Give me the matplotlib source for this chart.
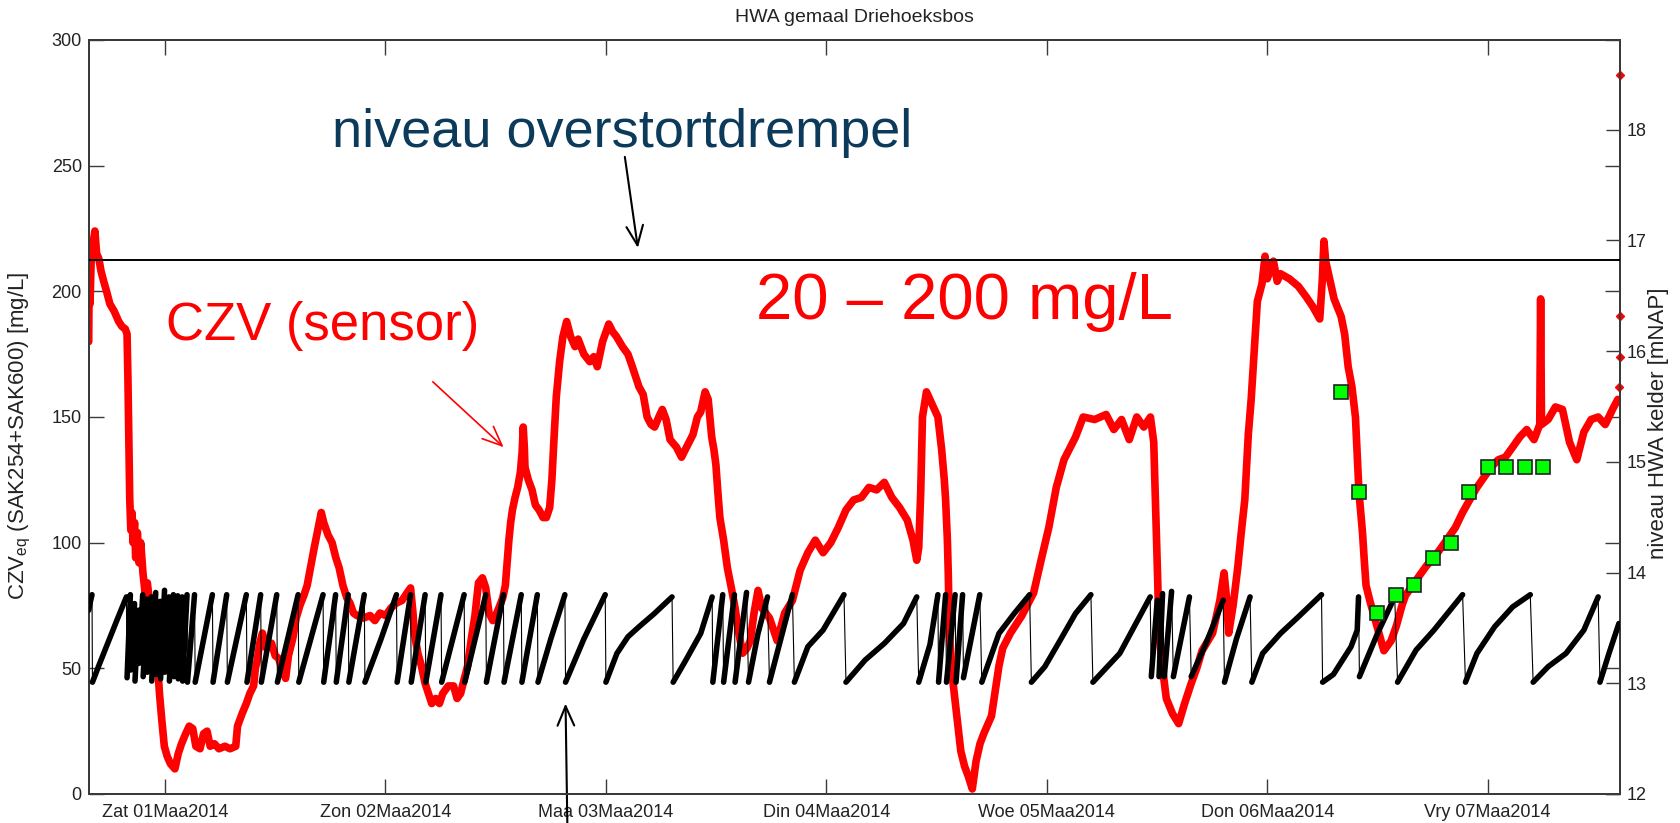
import numpy as np
import matplotlib
matplotlib.use('Agg')
import matplotlib.pyplot as plt

# CZV sensor series (days since 01-03-2014 00:00, mg/L)
czv_t = [-0.346, -0.344, -0.340, -0.335, -0.328, -0.318, -0.310, -0.300, -0.290, -0.278,
         -0.265, -0.250, -0.230, -0.210, -0.195, -0.180, -0.172, -0.168, -0.164, -0.160,
         -0.155, -0.150, -0.145, -0.138, -0.133, -0.125, -0.118, -0.110, -0.100, -0.090,
         -0.080, -0.068, -0.060, -0.052, -0.045, -0.036, -0.025, -0.015, -0.003, 0.010,
         0.025, 0.045, 0.060, 0.075, 0.094, 0.110, 0.126, 0.140, 0.159, 0.175,
         0.191, 0.205, 0.224, 0.245, 0.272, 0.295, 0.321, 0.329, 0.350, 0.369,
         0.385, 0.402, 0.410, 0.418, 0.430, 0.442, 0.460, 0.483, 0.500, 0.515,
         0.530, 0.547, 0.560, 0.580, 0.595, 0.612, 0.630, 0.645, 0.660, 0.677,
         0.695, 0.709, 0.720, 0.740, 0.758, 0.775, 0.790, 0.807, 0.825, 0.839,
         0.855, 0.871, 0.900, 0.930, 0.952, 0.975, 1.001, 1.025, 1.050, 1.075,
         1.098, 1.114, 1.125, 1.131, 1.147, 1.163, 1.180, 1.195, 1.210, 1.228,
         1.245, 1.260, 1.285, 1.309, 1.325, 1.341, 1.358, 1.373, 1.390, 1.406,
         1.422, 1.440, 1.455, 1.470, 1.487, 1.505, 1.519, 1.532, 1.544, 1.552,
         1.560, 1.568, 1.576, 1.588, 1.600, 1.612, 1.620, 1.625, 1.630, 1.633,
         1.648, 1.665, 1.680, 1.697, 1.715, 1.730, 1.745, 1.755, 1.765, 1.775,
         1.790, 1.805, 1.822, 1.840, 1.860, 1.874, 1.900, 1.927, 1.945, 1.961,
         1.985, 2.013, 2.030, 2.048, 2.075, 2.100, 2.120, 2.135, 2.150, 2.169,
         2.187, 2.205, 2.221, 2.240, 2.256, 2.273, 2.291, 2.320, 2.343, 2.360,
         2.395, 2.415, 2.430, 2.450, 2.464, 2.480, 2.490, 2.499, 2.508, 2.517,
         2.534, 2.551, 2.569, 2.586, 2.603, 2.620, 2.640, 2.655, 2.672, 2.690,
         2.707, 2.742, 2.777, 2.811, 2.846, 2.881, 2.916, 2.950, 2.985, 3.020,
         3.054, 3.089, 3.124, 3.159, 3.193, 3.228, 3.263, 3.297, 3.332, 3.367,
         3.393, 3.410, 3.419, 3.428, 3.436, 3.454, 3.480, 3.506, 3.523, 3.535,
         3.541, 3.549, 3.553, 3.558, 3.575, 3.592, 3.610, 3.627, 3.644, 3.662,
         3.679, 3.697, 3.714, 3.749, 3.766, 3.783, 3.800, 3.835, 3.887, 3.940,
         3.974, 4.009, 4.043, 4.078, 4.130, 4.165, 4.217, 4.269, 4.304, 4.339,
         4.374, 4.408, 4.440, 4.470, 4.485, 4.495, 4.503, 4.509, 4.525, 4.542,
         4.570, 4.598, 4.625, 4.655, 4.680, 4.704, 4.752, 4.785, 4.804, 4.815,
         4.825, 4.845, 4.866, 4.882, 4.898, 4.914, 4.927, 4.940, 4.955, 4.976,
         4.990, 5.000, 5.028, 5.045, 5.060, 5.100, 5.141, 5.175, 5.206, 5.238,
         5.250, 5.257, 5.265, 5.270, 5.303, 5.335, 5.351, 5.367, 5.384, 5.400,
         5.416, 5.432, 5.440, 5.448, 5.465, 5.481, 5.497, 5.529, 5.562, 5.586,
         5.611, 5.627, 5.659, 5.691, 5.724, 5.756, 5.789, 5.821, 5.853, 5.886,
         5.918, 5.951, 5.983, 6.015, 6.048, 6.080, 6.113, 6.145, 6.177, 6.210,
         6.236, 6.240, 6.244, 6.274, 6.307, 6.339, 6.371, 6.404, 6.436, 6.469,
         6.501, 6.533, 6.566, 6.590]
czv_v = [180, 205, 195, 212, 218, 224, 215, 213, 208, 204,
         200, 195, 192, 188, 186, 185, 183, 165, 140, 118,
         105, 112, 100, 108, 94, 104, 92, 100, 88, 80,
         84, 75, 70, 64, 72, 55, 40, 30, 19, 15,
         12, 10, 16, 20, 24, 27, 26, 19, 18, 24,
         25, 19, 20, 18, 19, 18, 19, 27, 32, 36,
         40, 43, 50, 53, 60, 64, 58, 60, 55, 54,
         50, 46, 55, 62, 70, 75, 79, 83, 90, 98,
         106, 112, 108, 103, 100, 94, 90, 83, 78, 76,
         72, 71, 70, 71, 69, 72, 71, 74, 76, 77,
         80, 82, 72, 64, 56, 51, 44, 40, 36, 38,
         36, 40, 43, 43, 38, 40, 46, 51, 62, 71,
         84, 86, 82, 72, 69, 72, 75, 78, 83, 92,
         101, 108, 113, 118, 122, 128, 136, 146, 138, 130,
         125, 121, 115, 113, 110, 110, 114, 125, 142, 158,
         172, 182, 188, 182, 178, 181, 175, 172, 174, 170,
         180, 187, 184, 182, 178, 175, 170, 166, 162, 159,
         150, 147, 146, 150, 153, 149, 141, 138, 134, 137,
         143, 150, 152, 160, 157, 142, 137, 131, 120, 110,
         101, 90, 82, 74, 64, 56, 58, 61, 72, 81,
         74, 70, 61, 72, 77, 89, 96, 101, 96, 100,
         106, 113, 117, 118, 122, 121, 124, 118, 114, 109,
         101, 93, 98, 120, 150, 160, 155, 150, 137, 125,
         117, 101, 88, 64, 44, 31, 17, 11, 7, 2,
         13, 20, 24, 31, 41, 51, 58, 64, 71, 80,
         93, 106, 122, 133, 142, 150, 149, 151, 145, 149,
         141, 150, 146, 150, 140, 110, 85, 64, 50, 38,
         32, 28, 36, 44, 50, 57, 64, 77, 88, 78,
         64, 75, 90, 104, 117, 143, 157, 175, 196, 203,
         214, 205, 212, 204, 207, 205, 202, 198, 194, 189,
         205, 220, 212, 210, 197, 190, 183, 170, 162, 150,
         120, 104, 93, 83, 77, 72, 67, 57, 61, 67,
         75, 79, 83, 87, 91, 94, 98, 102, 106, 112,
         117, 122, 126, 130, 133, 134, 138, 142, 145, 141,
         147, 197, 147, 149, 154, 153, 140, 133, 144, 149,
         150, 147, 153, 157]

# loose sensor readings at the end of the record
edge_t = [6.597, 6.598, 6.599, 6.600]
edge_v = [162, 174, 190, 286]

# lab samples (mg/L)
lab_t = [5.333, 5.417, 5.500, 5.583, 5.667, 5.750, 5.833, 5.917, 6.000, 6.083, 6.167, 6.250]
lab_v = [160, 120, 72, 79, 83, 94, 100, 120, 130, 130, 130, 130]

# water level in the HWA cellar (mNAP)
lvl_t = [-0.346, -0.338, -0.331, -0.329, -0.300, -0.260, -0.220, -0.175,
         -0.172, -0.157, -0.155, -0.138, -0.136, -0.120, -0.118, -0.101,
         -0.099, -0.082, -0.080, -0.062, -0.060, -0.042, -0.040, -0.022,
         -0.020, -0.002, 0.000, 0.018, 0.020, 0.038, 0.040, 0.058,
         0.060, 0.078, 0.080, 0.100,
         0.102, 0.134, 0.137, 0.215, 0.218, 0.280, 0.283, 0.369, 0.372, 0.434,
         0.437, 0.507, 0.510, 0.604, 0.607, 0.717, 0.720, 0.774, 0.777, 0.831,
         0.834, 0.904, 0.907, 0.980, 1.050, 1.053, 1.114, 1.117, 1.180, 1.183,
         1.252, 1.255, 1.357, 1.360, 1.455, 1.458, 1.535, 1.538, 1.616, 1.619,
         1.689, 1.692, 1.750, 1.814,
         1.817, 1.900, 1.997,
         2.000, 2.050, 2.100, 2.150, 2.220, 2.300,
         2.305, 2.360, 2.430, 2.482,
         2.485, 2.530, 2.534, 2.583, 2.586, 2.638,
         2.647, 2.690, 2.733, 2.742, 2.800, 2.846,
         2.855, 2.916, 2.985, 3.080,
         3.089, 3.176, 3.263, 3.350, 3.410,
         3.419, 3.470, 3.506, 3.509, 3.541, 3.545, 3.584, 3.588, 3.618, 3.622, 3.696,
         3.705, 3.783, 3.852, 3.922,
         3.930, 3.991, 4.061, 4.130, 4.200,
         4.209, 4.331, 4.420, 4.469,
         4.474, 4.501, 4.509, 4.525, 4.533, 4.566, 4.574, 4.647,
         4.655, 4.720, 4.800,
         4.806, 4.860, 4.922,
         4.930, 4.979, 5.060, 5.141, 5.246,
         5.251, 5.300, 5.380, 5.408, 5.414,
         5.418, 5.500, 5.578,
         5.591, 5.675, 5.756, 5.886,
         5.899, 5.951, 6.031, 6.113, 6.193,
         6.206, 6.274, 6.355, 6.436, 6.501,
         6.509, 6.550, 6.595]
lvl_h = [13.66, 13.74, 13.80, 13.01, 13.16, 13.36, 13.56, 13.78,
         13.05, 13.80, 13.12, 13.72, 13.02, 13.66, 13.18, 13.80,
         13.06, 13.76, 13.10, 13.78, 13.02, 13.82, 13.08, 13.74,
         13.04, 13.84, 13.10, 13.78, 13.02, 13.80, 13.06, 13.79,
         13.04, 13.78, 13.02, 13.80,
         13.01, 13.80, 13.01, 13.80, 13.01, 13.80, 13.01, 13.80, 13.01, 13.80,
         13.01, 13.80, 13.01, 13.80, 13.01, 13.80, 13.01, 13.80, 13.01, 13.80,
         13.01, 13.80, 13.01, 13.40, 13.80, 13.01, 13.80, 13.01, 13.80, 13.01,
         13.80, 13.01, 13.80, 13.01, 13.80, 13.01, 13.80, 13.01, 13.80, 13.01,
         13.80, 13.01, 13.40, 13.80,
         13.01, 13.40, 13.80,
         13.01, 13.27, 13.42, 13.51, 13.63, 13.78,
         13.01, 13.20, 13.45, 13.78,
         13.01, 13.80, 13.01, 13.80, 13.01, 13.82,
         13.01, 13.45, 13.78, 13.01, 13.45, 13.80,
         13.01, 13.33, 13.48, 13.80,
         13.01, 13.21, 13.36, 13.54, 13.78,
         13.01, 13.35, 13.80, 13.01, 13.80, 13.01, 13.80, 13.01, 13.80, 13.05, 13.80,
         13.01, 13.45, 13.63, 13.80,
         13.01, 13.15, 13.39, 13.63, 13.80,
         13.01, 13.27, 13.60, 13.78,
         13.06, 13.75, 13.06, 13.81, 13.06, 13.83, 13.06, 13.78,
         13.06, 13.35, 13.75,
         13.01, 13.40, 13.78,
         13.01, 13.27, 13.45, 13.60, 13.80,
         13.01, 13.08, 13.33, 13.48, 13.78,
         13.06, 13.45, 13.78,
         13.01, 13.30, 13.48, 13.80,
         13.01, 13.27, 13.51, 13.69, 13.80,
         13.01, 13.15, 13.27, 13.48, 13.78,
         13.01, 13.27, 13.54]

overstort = 16.82  # mNAP

day_labels = ['Zat 01Maa2014', 'Zon 02Maa2014', 'Maa 03Maa2014', 'Din 04Maa2014',
              'Woe 05Maa2014', 'Don 06Maa2014', 'Vry 07Maa2014']

plt.rcParams['font.family'] = ['Liberation Sans', 'DejaVu Sans']
plt.rcParams['mathtext.fontset'] = 'custom'
plt.rcParams['mathtext.rm'] = 'Liberation Sans'
plt.rcParams['mathtext.it'] = 'Liberation Sans'

fig = plt.figure(figsize=(16.8, 8.23), dpi=100)
ax = fig.add_axes([88.7 / 1680, 1 - 794 / 823, (1620 - 88.7) / 1680, 754 / 823])
ax2 = ax.twinx()

axis_col = '#3a3a3a'
text_col = '#222222'

# sensor curve, drawn thick to look like the dense marker band
ax.plot(czv_t, czv_v, color='#ff0000', lw=5.5, solid_joinstyle='round',
        solid_capstyle='round', zorder=2)
ax.plot(edge_t, edge_v, ls='none', marker='D', ms=4, color='#ff0000', clip_on=False)

# level: thin line everywhere, thick on the filling parts of each cycle
t = np.array(lvl_t)
h = np.array(lvl_h)
drops = np.where(np.diff(h) < 0)[0] + 1
ax2.plot(t, h, color='black', lw=0.8, zorder=2)
ax2.plot(np.insert(t, drops, np.nan), np.insert(h, drops, np.nan), color='black',
         lw=4, solid_joinstyle='round', solid_capstyle='round', zorder=3)

# overflow threshold
ax2.axhline(overstort, color='black', lw=1.4, zorder=4)

# lab samples on the mg/L scale
ax2.plot(lab_t, lab_v, ls='none', marker='s', ms=9.5, mfc='#00ff00', mec='#222222',
         mew=1.2, transform=ax.transData, zorder=6)

ax.set_xlim(-0.346, 6.600)
ax.set_ylim(0, 300)
ax2.set_ylim(12, 18.81)
ax.set_xticks(range(7))
ax.set_xticklabels(day_labels)
ax.set_yticks(range(0, 301, 50))
ax2.set_yticks(range(12, 19))

ax.tick_params(direction='in', length=11, width=1, colors=axis_col, labelcolor=text_col,
               labelsize=13, top=True, right=True, pad=5)
ax.tick_params(axis='x', pad=7)
ax2.tick_params(direction='in', length=10, width=1, colors=axis_col, labelcolor=text_col,
                labelsize=13, pad=5)
for a in (ax, ax2):
    for s in a.spines.values():
        s.set_color(axis_col)
        s.set_linewidth(1.4)

ax.set_ylabel(r'CZV$_{\rm eq}$ (SAK254+SAK600) [mg/L]', fontsize=16, color=text_col)
ax.yaxis.set_label_coords(-0.0364, 0.475)
ax2.set_ylabel('niveau HWA kelder [mNAP]', fontsize=16, color=text_col)
ax2.yaxis.set_label_coords(1.0183, 0.492)
fig.text(854 / 1680, 1 - 17 / 823, 'HWA gemaal Driehoeksbos', ha='center', va='center',
         fontsize=14, color=text_col)

# annotations
ax.text(0.757, 257.4, 'niveau overstortdrempel', fontsize=39, color='#0b3a5a',
        va='baseline', zorder=7)
ax.annotate('', xy=(2.145, 217.3), xytext=(2.086, 253.5),
            arrowprops=dict(arrowstyle='->,head_length=0.7,head_width=0.3', color='black',
                            lw=1.5, mutation_scale=20, shrinkA=0, shrinkB=0), zorder=7)
ax.text(0.005, 180.5, 'CZV (sensor)', fontsize=38, color='#ff0000', va='baseline', zorder=7)
ax.annotate('', xy=(1.536, 138), xytext=(1.215, 164),
            arrowprops=dict(arrowstyle='->,head_length=0.7,head_width=0.3', color='#ff0000',
                            lw=1.2, mutation_scale=20, shrinkA=0, shrinkB=0), zorder=7)
ax.text(2.68, 189, '20 \u2013 200 mg/L', fontsize=47, color='#ff0000', va='baseline', zorder=7)
ax.annotate('', xy=(1.817, 36), xytext=(1.825, -11.5),
            arrowprops=dict(arrowstyle='->,head_length=0.7,head_width=0.3', color='black',
                            lw=1.5, mutation_scale=20, shrinkA=0, shrinkB=0),
            annotation_clip=False, zorder=7)

# keep the level axis above the sensor axis but with a transparent background
ax2.set_zorder(ax.get_zorder() + 1)
ax2.patch.set_visible(False)

fig.savefig('out.png', dpi=100)
